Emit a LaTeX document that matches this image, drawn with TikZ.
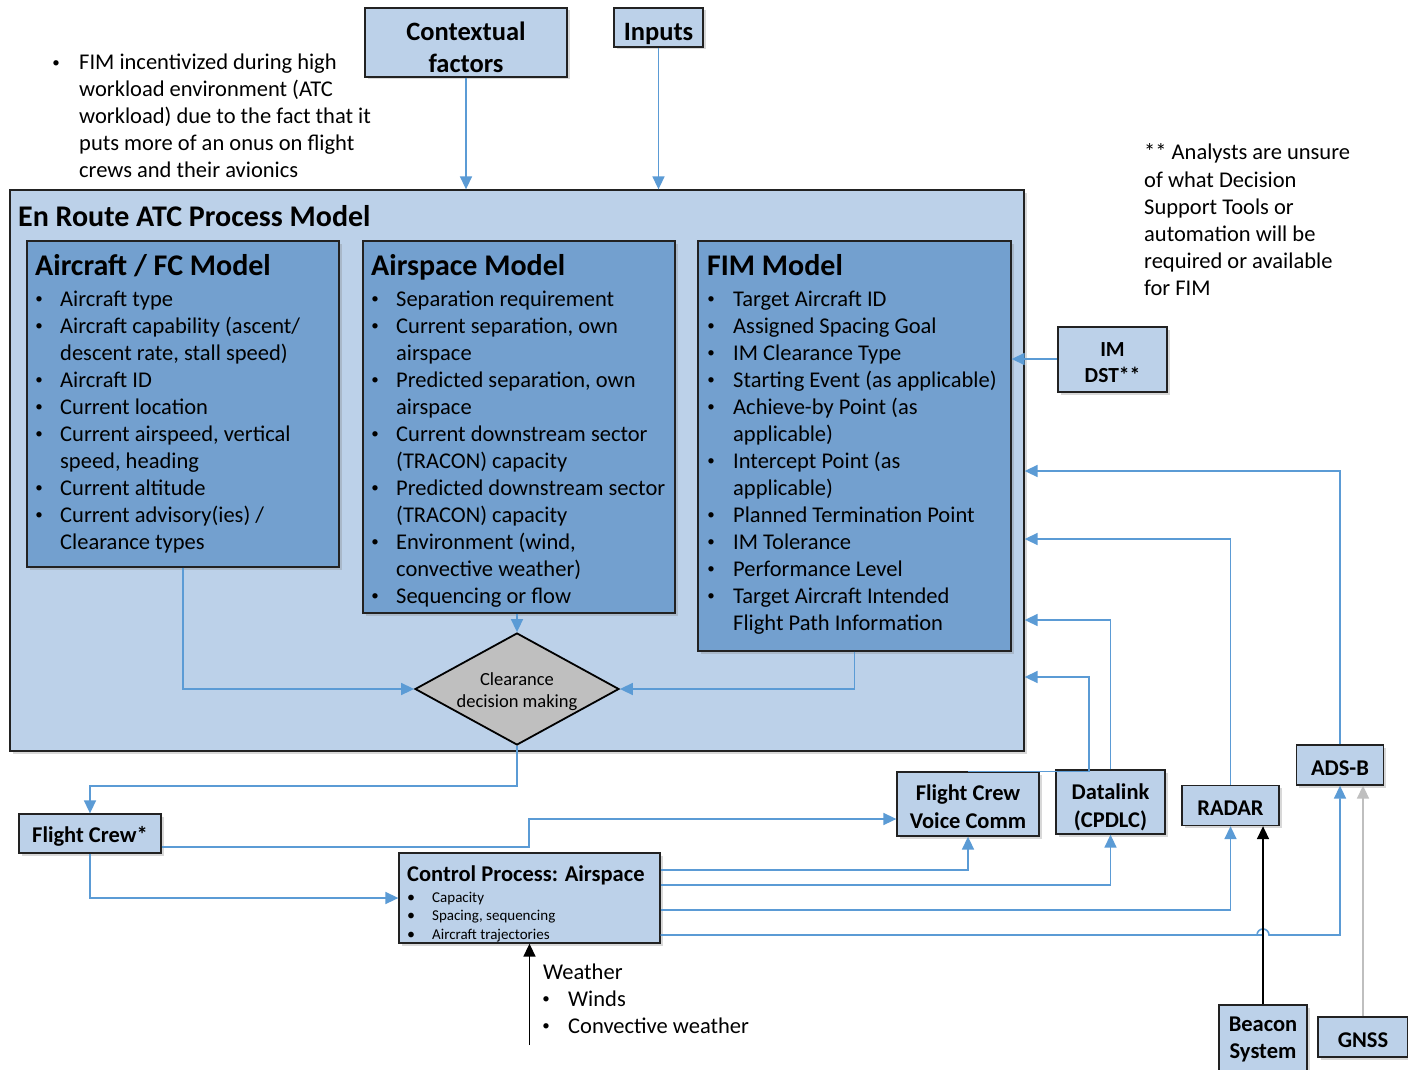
\documentclass[tikz,border=0pt]{standalone}
\usepackage{fontspec}
\setmainfont{Carlito}
\usetikzlibrary{arrows.meta,shapes.geometric,shadows,calc}

\definecolor{paleblue}{HTML}{BCD1E9}
\definecolor{midblue}{HTML}{73A0CF}
\definecolor{linkblue}{HTML}{5B9BD5}
\definecolor{edgegrey}{HTML}{222222}

\newcommand\fsz[2]{\fontsize{#1}{#2}\selectfont}

\tikzset{
  x=1pt, y=-1pt,
  shade box/.style={drop shadow={shadow xshift=2.5pt, shadow yshift=-2.5pt, opacity=0.3}},
  panel/.style={draw=edgegrey, line width=1.3pt, fill=paleblue, shade box, inner sep=0pt},
  modelpanel/.style={draw=edgegrey, line width=1.3pt, fill=midblue, shade box, inner sep=0pt},
  boxtext/.style={inner sep=0pt, align=center, yshift=-3pt, font=\bfseries\fsz{22.5}{28}},
  link/.style={draw=linkblue, line width=1.6pt, -{Triangle[length=13pt,width=12pt]}},
  blacklink/.style={draw=black, line width=1.6pt, -{Triangle[length=13pt,width=12pt]}},
  greylink/.style={draw=black!25, line width=1.6pt, -{Triangle[length=13pt,width=12pt]}},
  body/.style={inner sep=0pt, font=\fsz{22.5}{27}},
  bodydot/.style={inner sep=0pt, font=\fsz{15}{15}, yshift=2.2pt},
  head/.style={inner sep=0pt, font=\bfseries\fsz{30}{34}},
  small/.style={inner sep=0pt, font=\fsz{15}{18}},
  smalldot/.style={inner sep=0pt, font=\fsz{16}{16}},
}

% #1 name prefix, #2 text style, #3 bullet style, #4 bullet x, #5 text x,
% #6 first baseline, #7 line step, #8 kind/text pairs (b = bulleted, c = continued)
\newcommand\itemlines[8]{%
  \foreach \lkind/\ltext [count=\li] in {#8} {
    \pgfmathsetmacro\yy{#6+#7*(\li-1)}
    \node[#2, anchor=base west] (#1-\li) at (#5,\yy) {\ltext};
    \if b\lkind \node[#3, anchor=base] (#1-dot\li) at (#4,\yy) {\textbullet};\fi
  }%
}

\begin{document}
\begin{tikzpicture}
\path[fill=white, use as bounding box] (0,0) rectangle (1408,1070);

% notes
\itemlines{note}{body}{bodydot}{56}{79}{69.5}{27}{%
  b/FIM incentivized during high,
  c/workload environment (ATC,
  c/workload) due to the fact that it,
  c/puts more of an onus on flight,
  c/crews and their avionics}
\itemlines{dst}{body}{bodydot}{1144}{1144}{160}{27}{%
  c/** Analysts are unsure,
  c/of what Decision,
  c/Support Tools or,
  c/automation will be,
  c/required or available,
  c/for FIM}

% top input boxes
\node[panel, minimum width=202pt, minimum height=69pt] (ctx) at (466,42.5) {};
\node[boxtext, font=\bfseries\fsz{26.5}{32}, yshift=-2pt] (ctx-text) at (ctx) {Contextual\\factors};
\node[panel, minimum width=89pt, minimum height=39pt] (inp) at (658.5,27.5) {};
\node[boxtext, font=\bfseries\fsz{26.5}{32}, yshift=-3pt] (inp-text) at (inp) {Inputs};

% process model container
\node[panel, minimum width=1014pt, minimum height=561pt] (enroute) at (517,470.5) {};
\node[head, anchor=base west] (enroute-title) at (18,226) {En Route ATC Process Model};

\node[modelpanel, minimum width=312pt, minimum height=326pt] (ac) at (183,404) {};
\node[modelpanel, minimum width=312pt, minimum height=372pt] (as) at (519,427) {};
\node[modelpanel, minimum width=313pt, minimum height=410pt] (fim) at (854.5,446) {};

\node[head, anchor=base west] (ac-title) at (35,275) {Aircraft / FC Model};
\node[head, anchor=base west] (as-title) at (371,275) {Airspace Model};
\node[head, anchor=base west] (fim-title) at (707,275) {FIM Model};

\itemlines{acl}{body}{bodydot}{39}{60}{306}{27}{%
  b/Aircraft type,
  b/{Aircraft capability (ascent/},
  c/{descent rate, stall speed)},
  b/Aircraft ID,
  b/Current location,
  b/{Current airspeed, vertical},
  c/{speed, heading},
  b/Current altitude,
  b/{Current advisory(ies) /},
  c/Clearance types}
\itemlines{asl}{body}{bodydot}{375}{396}{306}{27}{%
  b/Separation requirement,
  b/{Current separation, own},
  c/airspace,
  b/{Predicted separation, own},
  c/airspace,
  b/Current downstream sector,
  c/(TRACON) capacity,
  b/Predicted downstream sector,
  c/(TRACON) capacity,
  b/{Environment (wind,},
  c/{convective weather)},
  b/Sequencing or flow}
\itemlines{fiml}{body}{bodydot}{711}{733}{306}{27}{%
  b/Target Aircraft ID,
  b/Assigned Spacing Goal,
  b/IM Clearance Type,
  b/Starting Event (as applicable),
  b/Achieve-by Point (as,
  c/applicable),
  b/Intercept Point (as,
  c/applicable),
  b/Planned Termination Point,
  b/IM Tolerance,
  b/Performance Level,
  b/Target Aircraft Intended,
  c/Flight Path Information}

% decision diamond
\node[diamond, draw=black, line width=1.8pt, fill=black!25, minimum width=204pt, minimum height=112pt, inner sep=0pt] (dec) at (517,689) {};
\node[align=center, inner sep=0pt, font=\fsz{18.5}{22}] (dec-text) at (517,691.5) {Clearance\\decision making};

% side boxes
\node[panel, minimum width=109pt, minimum height=65pt] (imdst) at (1112.5,359.5) {};
\node[boxtext, font=\bfseries\fsz{21.5}{26}] (imdst-text) at (imdst) {IM\\DST**};
\node[panel, minimum width=142pt, minimum height=39pt] (fc) at (90,833.5) {};
\node[boxtext] (fc-text) at (fc) {Flight Crew*};

\node[panel, minimum width=261pt, minimum height=90pt] (cp) at (529.5,898) {};
\node[inner sep=0pt, font=\bfseries\fsz{22.5}{27}, anchor=base west] (cp-title) at (407,881.5) {Control Process: Airspace};
\itemlines{cpl}{small}{smalldot}{411}{432}{902}{18.5}{%
  b/Capacity,
  b/{Spacing, sequencing},
  b/Aircraft trajectories}

\node[panel, minimum width=142pt, minimum height=64pt] (vc) at (968,804) {};
\node[boxtext] (vc-text) at (vc) {Flight Crew\\Voice Comm};
\node[panel, minimum width=109pt, minimum height=64pt] (dl) at (1110.5,802) {};
\node[boxtext, yshift=-2pt] (dl-text) at (dl) {Datalink\\(CPDLC)};
\node[panel, minimum width=97pt, minimum height=40pt] (radar) at (1230.5,805.5) {};
\node[boxtext] (radar-text) at (radar) {RADAR};
\node[panel, minimum width=87pt, minimum height=40pt] (adsb) at (1340,765) {};
\node[boxtext] (adsb-text) at (adsb) {ADS-B};
\node[panel, minimum width=88pt, minimum height=68pt] (beacon) at (1263,1039) {};
\node[boxtext, font=\bfseries\fsz{22.5}{27}, yshift=3pt] (beacon-text) at (beacon) {Beacon\\System};
\node[panel, minimum width=90pt, minimum height=40pt] (gnss) at (1363,1037) {};
\node[boxtext] (gnss-text) at (gnss) {GNSS};

% weather input
\node[body, anchor=base west] (wx-title) at (543,979) {Weather};
\itemlines{wxl}{body}{bodydot}{546}{568}{1006}{27}{%
  b/Winds,
  b/Convective weather}

% connectors
\draw[link] (ctx.south) -- (ctx.south |- enroute.north);
\draw[link] (inp.south) -- (inp.south |- enroute.north);
\draw[link] (imdst.west |- 0,359) -- (fim.east |- 0,359);
\draw[link] (adsb.north) |- (enroute.east |- 0,471);
\draw[link] (radar.north) |- (enroute.east |- 0,539);
\draw[link] (dl.north) |- (enroute.east |- 0,620);
\draw[link] (vc.north) -| (1089,677) -- (enroute.east |- 0,677);

\draw[link] (ac.south) |- (dec.west);
\draw[link] (dec.north |- as.south) -- (dec.north);
\draw[link] (fim.south) |- (dec.east);

\draw[link] (dec.south) -- (dec.south |- 0,786) -| (fc.north);
\draw[link] (fc.east |- 0,847) -- (529,847) |- (vc.west |- 0,819);
\draw[link] (fc.south) |- (cp.west);

\draw[link] (cp.east |- 0,870) -| (vc.south);
\draw[link] (cp.east |- 0,885) -| (dl.south);
\draw[link] (cp.east |- 0,910) -| (radar.south);
\draw[link] (cp.east |- 0,935) -- (beacon.north |- 0,935) ++(-6,0) arc[start angle=180, end angle=360, radius=6] -| (adsb.south);

\draw[blacklink] (beacon.north) -- (beacon.north |- radar.south);
\draw[greylink] (gnss.north) -- (gnss.north |- adsb.south);
\draw[blacklink] (cp.south |- 0,1045) -- (cp.south);
\end{tikzpicture}
\end{document}
